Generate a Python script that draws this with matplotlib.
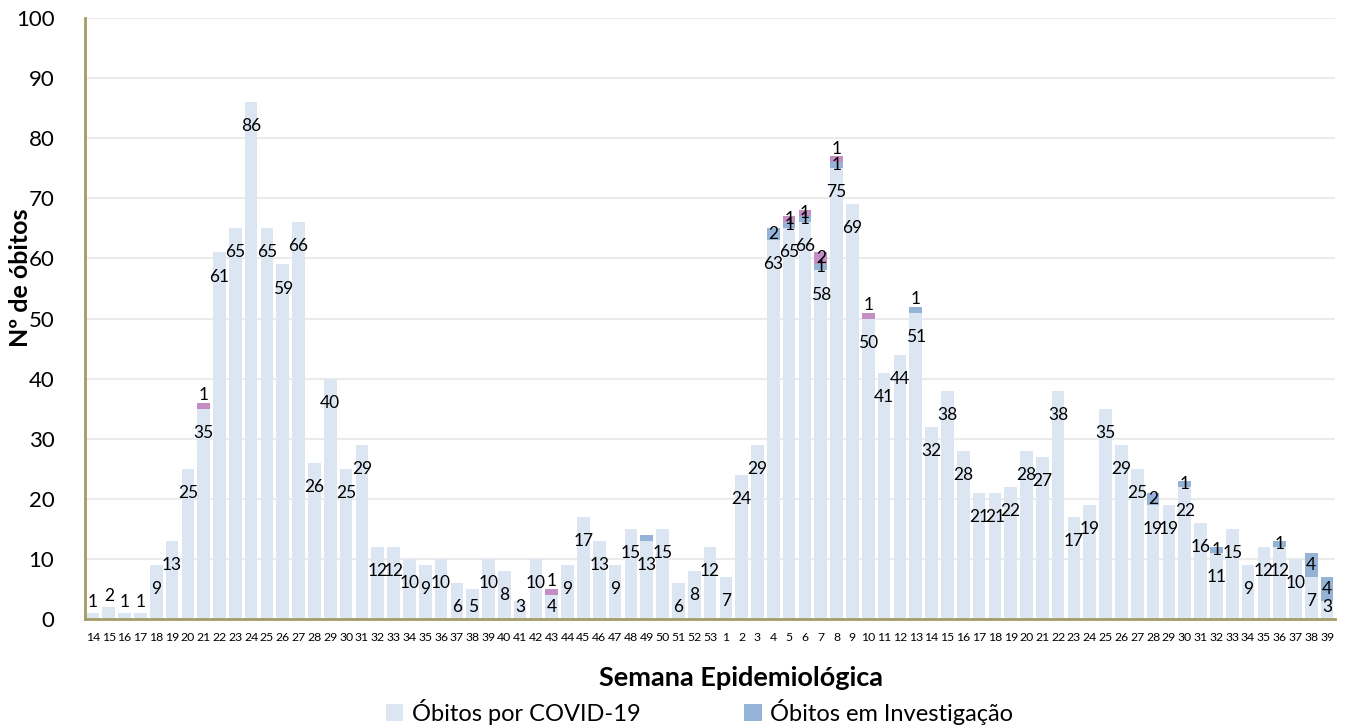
import matplotlib
matplotlib.use("Agg")
import matplotlib.pyplot as plt
import numpy as np

weeks = [str(w) for w in range(14, 54)] + [str(w) for w in range(1, 40)]

covid = [1, 2, 1, 1, 9, 13, 25, 35, 61, 65, 86, 65, 59, 66, 26, 40, 25, 29, 12, 12,
         10, 9, 10, 6, 5, 10, 8, 3, 10, 4, 9, 17, 13, 9, 15, 13, 15, 6, 8, 12,
         7, 24, 29, 63, 65, 66, 58, 75, 69, 50, 41, 44, 51, 32, 38, 28, 21, 21, 22, 28,
         27, 38, 17, 19, 35, 29, 25, 19, 19, 22, 16, 11, 15, 9, 12, 12, 10, 7, 3]

invest = [0]*35 + [1] + [0]*4 + \
         [0, 0, 0, 2, 1, 1, 1, 1, 0, 0, 0, 0, 1, 0, 0, 0, 0, 0, 0, 0,
          0, 0, 0, 0, 0, 0, 0, 2, 0, 1, 0, 1, 0, 0, 0, 1, 0, 4, 4]

outros = [0]*7 + [1] + [0]*21 + [1] + [0]*10 + \
         [0, 0, 0, 0, 1, 1, 2, 1, 0, 1] + [0]*29

invest_labeled = [False]*35 + [False] + [False]*4 + [True]*39

c_covid = "#DCE6F2"
c_inv = "#95B3D7"
c_out = "#C48EC4"

plt.rcParams['font.family'] = ['Lato', 'DejaVu Sans']

fig = plt.figure(figsize=(13.45, 7.25), dpi=100)
ax = fig.add_axes([0.0632, 0.1462, 0.9294, 0.8288])

x = np.arange(len(weeks))
cv = np.array(covid, dtype=float)
iv = np.array(invest, dtype=float)
ov = np.array(outros, dtype=float)
bw = 0.8
ax.bar(x, cv, width=bw, color=c_covid, zorder=2, label="Óbitos por COVID-19")
ax.bar(x, iv, bottom=cv, width=bw, color=c_inv, zorder=2, label="Óbitos em Investigação")
ax.bar(x, ov, bottom=cv + iv, width=bw, color=c_out, zorder=2, label="_nolegend_")

fs = 12.5
for i in range(len(x)):
    v = cv[i]
    if v <= 2:
        y = v + 1.8
    else:
        y = max(v - 4, 2.0)
    ax.text(x[i], y, f"{int(v)}", ha="center", va="center", fontsize=fs, color="#000000", zorder=4)
    if iv[i] > 0 and invest_labeled[i]:
        if ov[i] == 0 and iv[i] == 1 and v > 40:
            yy = v + iv[i] + 1.3
        else:
            yy = v + iv[i] / 2
        ax.text(x[i], yy, f"{int(iv[i])}", ha="center", va="center", fontsize=fs, zorder=4)
    if ov[i] > 0:
        top = v + iv[i]
        if ov[i] == 1 and (iv[i] == 0 or v > 70):
            yy = top + ov[i] + 1.3
        else:
            yy = top + ov[i] / 2
        ax.text(x[i], yy, f"{int(ov[i])}", ha="center", va="center", fontsize=fs, zorder=4)

ax.set_xlim(-0.5, len(x) - 0.5)
ax.set_ylim(0, 100)
ax.set_yticks(range(0, 101, 10))
ax.set_yticklabels([str(t) for t in range(0, 101, 10)], fontsize=16)
ax.set_xticks(x)
ax.set_xticklabels(weeks, fontsize=8.8)
ax.tick_params(axis="both", length=0)
ax.tick_params(axis="x", pad=9)
ax.tick_params(axis="y", pad=22)
ax.yaxis.grid(True, color="#EBEBEB", linewidth=1.5, zorder=0)
ax.set_axisbelow(True)
for s in ["top", "right"]:
    ax.spines[s].set_visible(False)
for s in ["left", "bottom"]:
    ax.spines[s].set_color("#A39C66")
    ax.spines[s].set_linewidth(2)
    ax.spines[s].set_zorder(5)

fig.text(0.0155, 0.617, "Nº de óbitos", fontsize=18, fontweight="bold",
         rotation=90, ha="center", va="center")
fig.text(0.5513, 0.065, "Semana Epidemiológica", fontsize=19.5, fontweight="bold", ha="center", va="center")

handles, labels = ax.get_legend_handles_labels()
leg = fig.legend(handles[:2], labels[:2], loc="center", bbox_to_anchor=(0.52, 0.018), ncol=2,
                 frameon=False, fontsize=17, handlelength=0.75, handleheight=0.75,
                 handletextpad=0.35, columnspacing=4.4, borderpad=0)

fig.savefig("out.png", dpi=100)
